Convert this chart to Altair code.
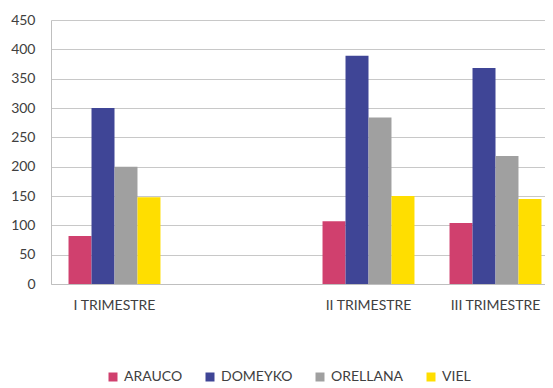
import altair as alt
import pandas as pd

categories = ["I TRIMESTRE", " ", "II TRIMESTRE", "III TRIMESTRE"]
series = ["ARAUCO", "DOMEYKO", "ORELLANA", "VIEL"]
arauco = [82, None, 107, 104]
domeyko = [300, None, 389, 368]
orellana = [200, None, 284, 218]
viel = [148, None, 150, 145]
colors = ["#D0406E", "#3F4596", "#A0A0A0", "#FFDE00"]
y_ticks = [0, 50, 100, 150, 200, 250, 300, 350, 400, 450]

rows = []
for s, vals in zip(series, [arauco, domeyko, orellana, viel]):
    for c, v in zip(categories, vals):
        if v is not None:
            rows.append({"trimestre": c, "serie": s, "valor": v})
df = pd.DataFrame(rows)

FONT = "Lato"

chart = alt.Chart(df).mark_bar().encode(
    x=alt.X("trimestre:N",
            scale=alt.Scale(domain=categories, range=[0, 508],
                            paddingInner=0.276, paddingOuter=0.138),
            axis=alt.Axis(title=None, labelAngle=0, ticks=False, labelPadding=14,
                          labelFontSize=14, labelColor="#404040", labelFont=FONT,
                          domainColor="#BFBFBF", grid=False)),
    xOffset=alt.XOffset("serie:N", scale=alt.Scale(domain=series, paddingInner=0, paddingOuter=0)),
    y=alt.Y("valor:Q",
            scale=alt.Scale(domain=[0, 450], nice=False),
            axis=alt.Axis(title=None, values=y_ticks, ticks=False, labelPadding=16,
                          labelFontSize=14, labelColor="#404040", labelFont=FONT,
                          domainColor="#BFBFBF", gridColor="#C8C8C8")),
    color=alt.Color("serie:N",
                    scale=alt.Scale(domain=series, range=colors),
                    legend=alt.Legend(title=None, orient="none", direction="horizontal",
                                      legendX=55, legendY=350, symbolType="square",
                                      symbolSize=81, symbolStrokeWidth=0,
                                      labelFontSize=14, labelFont=FONT, labelColor="#404040",
                                      columnPadding=20, labelOffset=4)),
).properties(
    width=494, height=264,
    padding={"left": 43, "top": 12, "right": 0, "bottom": 100},
    autosize="none",
).configure_view(stroke=None)

chart.save("out.html", embed_options={"renderer": "svg", "actions": False})
